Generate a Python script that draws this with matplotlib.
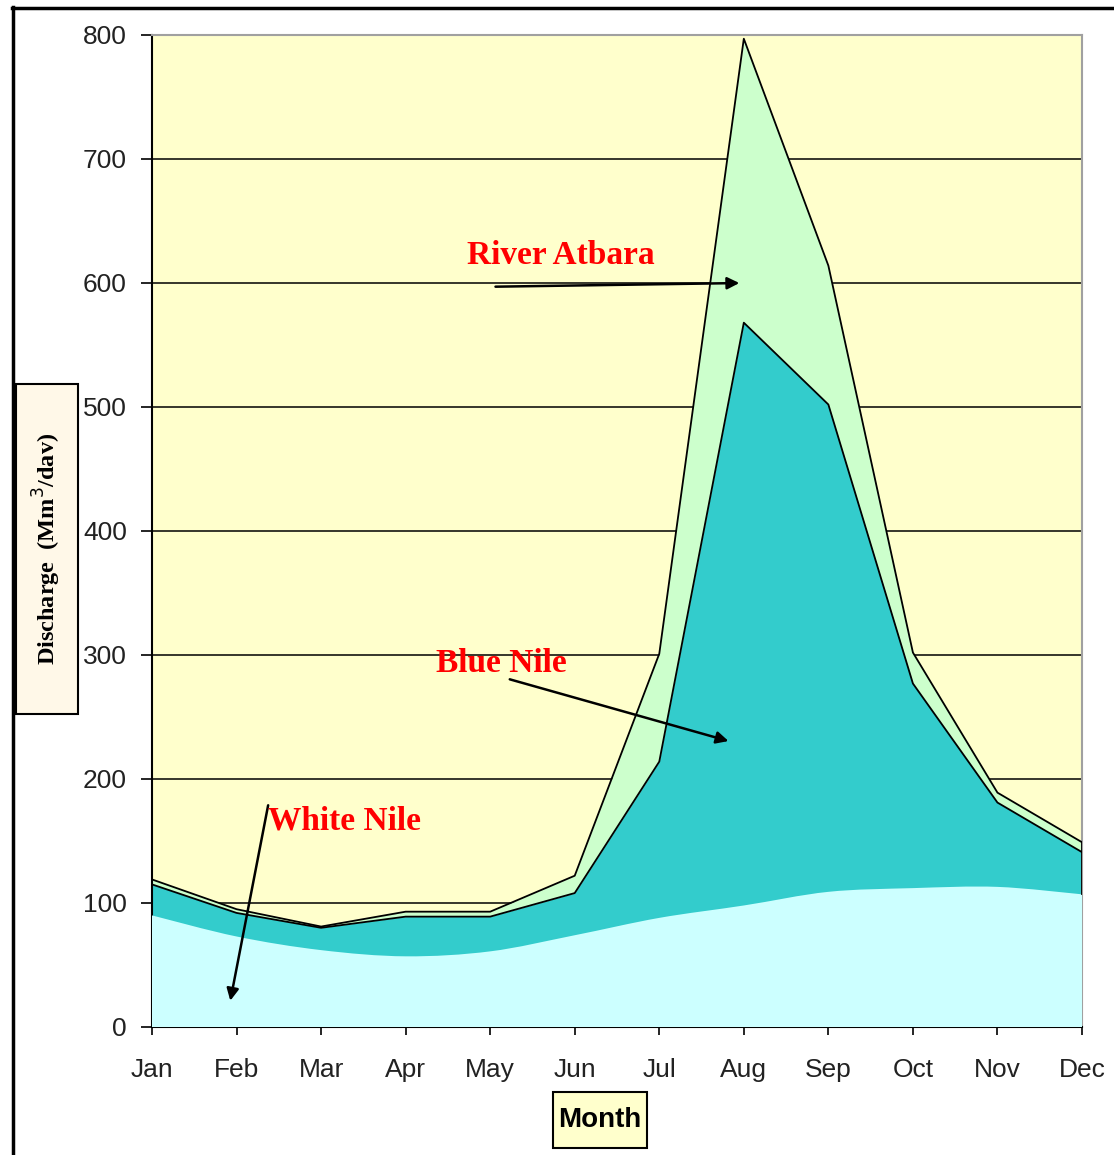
import numpy as np
import matplotlib.pyplot as plt
from matplotlib.path import Path
from matplotlib.patches import PathPatch, Rectangle
from matplotlib.lines import Line2D

plt.switch_backend('agg')

# monthly discharge (Mm3/day) for the three contributing rivers
months = ['Jan', 'Feb', 'Mar', 'Apr', 'May', 'Jun',
          'Jul', 'Aug', 'Sep', 'Oct', 'Nov', 'Dec']
white_nile = [90, 73, 62, 57, 61, 74, 88, 98, 109, 112, 113, 107]
blue_nile = [25, 19, 18, 32, 28, 34, 126, 470, 393, 165, 68, 34]
atbara = [4, 3, 1, 4, 4, 14, 87, 229, 112, 25, 8, 8]
yticks = [0, 100, 200, 300, 400, 500, 600, 700, 800]

x = np.arange(len(months))
wn = np.asarray(white_nile, dtype=float)
bn_top = wn + np.asarray(blue_nile)
at_top = bn_top + np.asarray(atbara)

c_bg = '#ffffcc'
c_at = '#ccffcc'
c_bn = '#33cccc'
c_wn = '#ccffff'
serif = 'Liberation Serif'
sans = 'Liberation Sans'


def smooth_path(xs, ys):
    """Closed area path under a Catmull-Rom style bezier through (xs, ys)."""
    pts = np.column_stack([xs, ys])
    ext = np.vstack([pts[0], pts, pts[-1]])
    verts = [(xs[0], 0), tuple(pts[0])]
    codes = [Path.MOVETO, Path.LINETO]
    for i in range(1, len(ext) - 2):
        p0, p1, p2, p3 = ext[i - 1], ext[i], ext[i + 1], ext[i + 2]
        verts += [tuple(p1 + (p2 - p0) / 6), tuple(p2 - (p3 - p1) / 6), tuple(p2)]
        codes += [Path.CURVE4] * 3
    verts += [(xs[-1], 0), (xs[0], 0)]
    codes += [Path.LINETO, Path.CLOSEPOLY]
    return Path(verts, codes)


fig = plt.figure(figsize=(11.14, 11.55), dpi=100)
ax = fig.add_axes([152/1114, 1-1027/1155, 930/1114, 992/1155])
ax.set_facecolor(c_bg)

# stacked layers, drawn from the total downwards
ax.fill_between(x, 0, at_top, color=c_at, lw=0, zorder=1)
ax.fill_between(x, 0, bn_top, color=c_bn, lw=0, zorder=2)
ax.add_patch(PathPatch(smooth_path(x, wn), facecolor=c_wn, edgecolor='none', zorder=3))
ax.plot(x, at_top, color='black', lw=1.3, zorder=4)
ax.plot(x, bn_top, color='black', lw=1.3, zorder=4)
ax.plot([x[-1], x[-1]], [wn[-1], at_top[-1]], color='black', lw=1.3, zorder=4)

ax.set_xlim(0, 11)
ax.set_ylim(0, 800)
ax.set_yticks(yticks)
ax.set_xticks(x)
ax.set_xticklabels(months)
ax.yaxis.grid(True, color='black', lw=1.1)
ax.set_axisbelow(True)
ax.tick_params(axis='y', direction='out', length=8, width=1.2, pad=10,
               labelsize=19, labelcolor='#222222')
ax.tick_params(axis='x', direction='out', length=6, width=1.2, pad=16,
               labelsize=19, labelcolor='#222222')
for lab in ax.get_xticklabels() + ax.get_yticklabels():
    lab.set_fontfamily(sans)
for side in ['left', 'bottom']:
    ax.spines[side].set_linewidth(1.5)
for side in ['top', 'right']:
    ax.spines[side].set_color('#a0a0a0')
    ax.spines[side].set_linewidth(1.5)

# river labels with arrows
arrow = dict(arrowstyle='-|>', color='black', lw=1.8, mutation_scale=18)
ax.annotate('', xy=(6.98, 600), xytext=(4.03, 597), arrowprops=arrow, zorder=6)
ax.annotate('', xy=(6.85, 230), xytext=(4.2, 281), arrowprops=arrow, zorder=6)
ax.annotate('', xy=(0.92, 19), xytext=(1.38, 181), arrowprops=arrow, zorder=6)
txt = dict(color='red', fontsize=24, fontweight='bold', family=serif,
           ha='center', va='center', zorder=7)
ax.text(4.83, 622, 'River Atbara', **txt)
ax.text(4.13, 293, 'Blue Nile', **txt)
ax.text(2.28, 166, 'White Nile', **txt)

# boxed axis titles
fig.patches.append(Rectangle((16/1114, 1-714/1155), 62/1114, 330/1155,
                             transform=fig.transFigure, facecolor='#fff8e8',
                             edgecolor='black', lw=1.5))
fig.text(47/1114, 1-549/1155, 'Discharge  (Mm$^3$/dav)', rotation=90,
         ha='center', va='center', fontsize=17.5, fontweight='bold', family=serif)
fig.patches.append(Rectangle((553/1114, 1-1148/1155), 94/1114, 56/1155,
                             transform=fig.transFigure, facecolor=c_bg,
                             edgecolor='black', lw=1.5))
fig.text(600/1114, 1-1120/1155, 'Month', ha='center', va='center',
         fontsize=20, fontweight='bold', family=sans)

# outer frame (left and top edges)
fig.lines.append(Line2D([12.5/1114, 12.5/1114], [0, 1-7/1155], color='black',
                        lw=2.5, transform=fig.transFigure))
fig.lines.append(Line2D([12/1114, 1], [1-7.5/1155, 1-7.5/1155], color='black',
                        lw=2.5, transform=fig.transFigure))

plt.savefig('out.png', dpi=100)
plt.close('all')
